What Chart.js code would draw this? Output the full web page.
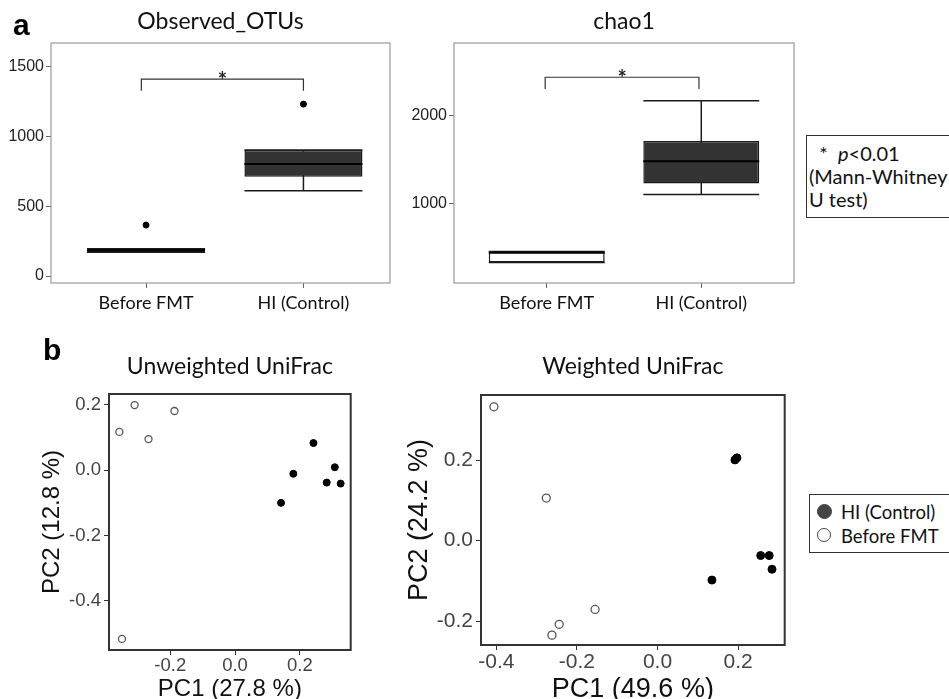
<!DOCTYPE html>
<html>
<head>
<meta charset="utf-8">
<title>Alpha / beta diversity</title>
<script src="https://cdn.jsdelivr.net/npm/chart.js@4.4.1/dist/chart.umd.min.js"></script>
<style>
	html, body { margin: 0; padding: 0; background: #fff; }
	body { position: relative; width: 949px; height: 699px; overflow: hidden; font-family: Lato, "Open Sans", sans-serif; color: #111; }
	canvas { position: absolute; }
	.panelLetter { position: absolute; font: bold 30px/30px "Liberation Sans", Arial, sans-serif; color: #000; }
	.legendBox { position: absolute; box-sizing: border-box; border: 1px solid #333; background: #fff; font-size: 20px; line-height: 23px; white-space: nowrap; }
	.legendRow { position: absolute; left: 31px; height: 24px; line-height: 24px; font-size: 18.5px; }
	.legendDot { position: absolute; left: -24px; top: 4px; width: 15px; height: 15px; border-radius: 50%; box-sizing: border-box; }
</style>
</head>
<body>
<canvas id="chartOtus" width="395" height="320" style="left:0;top:0"></canvas>
<canvas id="chartChao" width="399" height="320" style="left:400px;top:0"></canvas>
<canvas id="chartUnweighted" width="356" height="380" style="left:0;top:330px"></canvas>
<canvas id="chartWeighted" width="390" height="380" style="left:400px;top:330px"></canvas>

<div class="panelLetter" style="left:13px;top:10px">a</div>
<div class="panelLetter" style="left:43px;top:335px">b</div>

<div class="legendBox" id="pValueNote" style="left:806px;top:135px;width:160px;height:83px;padding:6px 0 0 2px">
	<div>&nbsp;&nbsp;*&nbsp;&nbsp;<i>p</i>&lt;0.01</div>
	<div>(Mann-Whitney</div>
	<div>U test)</div>
</div>
<div class="legendBox" id="groupLegend" style="left:809px;top:494px;width:160px;height:59px"></div>

<script>
// ---------------- DATA ----------------
var GROUPS = ['Before FMT', 'HI (Control)'];

// Observed_OTUs
var OTU_TICKS = [0, 500, 1000, 1500];
var OTU_Q1 = [170, 711];
var OTU_MEDIAN = [184, 802];
var OTU_Q3 = [196, 903];
var OTU_LOWER = [170, 611];
var OTU_UPPER = [196, 903];
var OTU_OUTLIERS = [[365], [1232]];
var OTU_BRACKET = [1411, 1327];      // bar level, leg end

// chao1
var CHAO_TICKS = [1000, 2000];
var CHAO_Q1 = [328, 1226];
var CHAO_MEDIAN = [440, 1478];
var CHAO_Q3 = [454, 1707];
var CHAO_LOWER = [328, 1100];
var CHAO_UPPER = [454, 2165];
var CHAO_OUTLIERS = [[], []];
var CHAO_BRACKET = [2432, 2298];

// Unweighted UniFrac PCoA
var UNW_X_TICKS = [-0.2, 0, 0.2];
var UNW_Y_TICKS = [-0.4, -0.2, 0, 0.2];
var UNW_HI_X = [0.242, 0.180, 0.308, 0.283, 0.326, 0.142];
var UNW_HI_Y = [0.083, -0.011, 0.009, -0.038, -0.041, -0.100];
var UNW_BEFORE_X = [-0.357, -0.310, -0.267, -0.187, -0.349];
var UNW_BEFORE_Y = [0.117, 0.199, 0.095, 0.181, -0.516];

// Weighted UniFrac PCoA
var W_X_TICKS = [-0.4, -0.2, 0, 0.2];
var W_Y_TICKS = [-0.2, 0, 0.2];
var W_HI_X = [0.192, 0.197, 0.256, 0.277, 0.284, 0.135];
var W_HI_Y = [0.201, 0.206, -0.037, -0.037, -0.071, -0.098];
var W_BEFORE_X = [-0.406, -0.276, -0.155, -0.244, -0.262];
var W_BEFORE_Y = [0.333, 0.106, -0.171, -0.208, -0.235];

// ---------------- STYLE ----------------
var BOX_WIDTH = 0.75;
var LABEL_FONT = 'Lato';
var AXIS_FONT = '"Liberation Sans", Arial, sans-serif';

// ---------------- PLUGINS ----------------
// Whiskers (behind boxes), medians + significance bracket (on top)
var boxWhiskers = {
	id: 'boxWhiskers',
	beforeDatasetsDraw: function (chart, args, opts) {
		var xs = chart.scales.x, ys = chart.scales.y, ctx = chart.ctx;
		ctx.save();
		ctx.strokeStyle = '#1a1a1a';
		ctx.lineWidth = 1.5;
		opts.lower.forEach(function (lo, i) {
			var cx = xs.getPixelForValue(i + 1);
			var half = xs.getPixelForValue(i + 1 + BOX_WIDTH / 2) - cx;
			var yLo = ys.getPixelForValue(lo), yHi = ys.getPixelForValue(opts.upper[i]);
			ctx.beginPath();
			ctx.moveTo(cx, yLo); ctx.lineTo(cx, yHi);
			ctx.moveTo(cx - half, yLo); ctx.lineTo(cx + half, yLo);
			ctx.moveTo(cx - half, yHi); ctx.lineTo(cx + half, yHi);
			ctx.stroke();
		});
		ctx.restore();
	},
	afterDatasetsDraw: function (chart, args, opts) {
		var xs = chart.scales.x, ys = chart.scales.y, ctx = chart.ctx;
		ctx.save();
		// medians
		ctx.strokeStyle = '#000';
		ctx.lineWidth = 2;
		opts.median.forEach(function (m, i) {
			var cx = xs.getPixelForValue(i + 1);
			var half = xs.getPixelForValue(i + 1 + BOX_WIDTH / 2) - cx;
			var y = ys.getPixelForValue(m);
			ctx.beginPath();
			ctx.moveTo(cx - half, y); ctx.lineTo(cx + half, y);
			ctx.stroke();
		});
		// bracket
		var x1 = xs.getPixelForValue(opts.bracketFrom), x2 = xs.getPixelForValue(opts.bracketTo);
		var yBar = ys.getPixelForValue(opts.bracket[0]), yLeg = ys.getPixelForValue(opts.bracket[1]);
		ctx.strokeStyle = '#333';
		ctx.lineWidth = 1.2;
		ctx.beginPath();
		ctx.moveTo(x1, yLeg); ctx.lineTo(x1, yBar); ctx.lineTo(x2, yBar); ctx.lineTo(x2, yLeg);
		ctx.stroke();
		ctx.fillStyle = '#222';
		ctx.font = 'bold 22px ' + LABEL_FONT;
		ctx.textAlign = 'center';
		ctx.textBaseline = 'alphabetic';
		ctx.fillText('*', (x1 + x2) / 2, yBar + 9);
		ctx.restore();
	}
};

var panelFrame = {
	id: 'panelFrame',
	afterDatasetsDraw: function (chart, args, opts) {
		var a = chart.chartArea, ctx = chart.ctx;
		ctx.save();
		ctx.strokeStyle = opts.color;
		ctx.lineWidth = opts.width;
		ctx.strokeRect(a.left, a.top, a.right - a.left, a.bottom - a.top);
		ctx.restore();
	}
};

// ---------------- BUILDERS ----------------
function fixedTicks(values) {
	return function (scale) {
		scale.ticks = values.map(function (v) { return {value: v}; });
	};
}

function buildBoxChart(canvasId, box) {
	var boxData = [], outlierData = [];
	GROUPS.forEach(function (name, i) {
		boxData.push({x: i + 1, y: [box.q1[i], box.q3[i]]});
		box.outliers[i].forEach(function (v) {
			outlierData.push({x: i + 1, y: v});
		});
	});

	return new Chart(document.getElementById(canvasId), {
		type: 'bar',
		data: {
			datasets: [
				{
					label: 'box',
					data: boxData,
					backgroundColor: ['#ffffff', '#333333'],
					borderColor: '#1a1a1a',
					borderWidth: 1.5,
					borderSkipped: false,
					barPercentage: BOX_WIDTH,
					categoryPercentage: 1,
					order: 2
				},
				{
					type: 'scatter',
					label: 'outliers',
					data: outlierData,
					pointRadius: 3,
					backgroundColor: '#000',
					borderColor: '#000',
					order: 1
				}
			]
		},
		options: {
			responsive: false,
			animation: false,
			events: [],
			layout: {padding: {left: 0, top: 0, bottom: 0, right: 5}},
			scales: {
				x: {
					type: 'linear',
					min: box.xMin,
					max: box.xMax,
					offset: false,
					afterFit: function (s) { s.height = 37; },
					afterBuildTicks: fixedTicks([1, 2]),
					ticks: {
						callback: function (v) { return GROUPS[v - 1]; },
						font: {family: LABEL_FONT, size: 18, lineHeight: 1},
						color: '#111',
						padding: 6,
						maxRotation: 0,
						autoSkip: false
					},
					grid: {drawOnChartArea: false, offset: false, tickLength: 5, color: '#666'},
					border: {display: false}
				},
				y: {
					type: 'linear',
					min: box.yMin,
					max: box.yMax,
					afterFit: function (s) { s.width = box.yWidth; },
					afterBuildTicks: fixedTicks(box.ticks),
					ticks: {
						callback: function (v) { return String(v); },
						font: {family: AXIS_FONT, size: 16, lineHeight: 1},
						color: '#222',
						padding: 2
					},
					grid: {drawOnChartArea: false, tickLength: 5, color: '#666'},
					border: {display: false}
				}
			},
			plugins: {
				legend: {display: false},
				tooltip: {enabled: false},
				title: {
					display: true,
					text: box.title,
					fullSize: false,
					color: '#111',
					font: {family: LABEL_FONT, size: 23, weight: 'normal', lineHeight: 1.2},
					padding: {top: 8, bottom: 7.4}
				},
				boxWhiskers: {
					lower: box.lower,
					upper: box.upper,
					median: box.median,
					bracket: box.bracket,
					bracketFrom: box.bracketFrom,
					bracketTo: box.bracketTo
				},
				panelFrame: {color: '#999', width: 1.2}
			}
		},
		plugins: [boxWhiskers, panelFrame]
	});
}

function toPoints(xs, ys) {
	return xs.map(function (x, i) { return {x: x, y: ys[i]}; });
}

function buildPcoaChart(canvasId, pc) {
	var tickFont = {family: AXIS_FONT, size: pc.tickSize, lineHeight: 1};
	var titleFont = {family: AXIS_FONT, size: pc.titleSize, lineHeight: 1.2};
	return new Chart(document.getElementById(canvasId), {
		type: 'scatter',
		data: {
			datasets: [
				{
					label: 'HI (Control)',
					data: toPoints(pc.hiX, pc.hiY),
					backgroundColor: '#000',
					borderColor: '#000',
					borderWidth: 1,
					pointRadius: pc.radius
				},
				{
					label: 'Before FMT',
					data: toPoints(pc.beforeX, pc.beforeY),
					backgroundColor: '#fff',
					borderColor: '#555',
					borderWidth: 1.3,
					pointRadius: pc.radius
				}
			]
		},
		options: {
			responsive: false,
			animation: false,
			events: [],
			layout: {padding: {left: 0, top: 0, bottom: 0, right: 5}},
			scales: {
				x: {
					min: pc.xMin,
					max: pc.xMax,
					afterFit: function (s) { s.height = pc.xHeight; },
					afterBuildTicks: fixedTicks(pc.xTicks),
					ticks: {font: tickFont, color: '#444', padding: 2, maxRotation: 0, autoSkip: false,
						callback: function (v) { return v.toFixed(1); }},
					grid: {drawOnChartArea: false, tickLength: 5, color: '#333'},
					border: {display: false},
					title: {display: true, text: pc.xTitle, color: '#111', font: titleFont, padding: {top: 0, bottom: pc.xTitlePad}}
				},
				y: {
					min: pc.yMin,
					max: pc.yMax,
					afterFit: function (s) { s.width = pc.yWidth; },
					afterBuildTicks: fixedTicks(pc.yTicks),
					ticks: {font: tickFont, color: '#444', padding: 3,
						callback: function (v) { return v.toFixed(1); }},
					grid: {drawOnChartArea: false, tickLength: 5, color: '#333'},
					border: {display: false},
					title: {display: true, text: pc.yTitle, color: '#111', font: titleFont, padding: {top: pc.yTitlePad, bottom: 0}}
				}
			},
			plugins: {
				legend: {display: false},
				tooltip: {enabled: false},
				title: {
					display: true,
					text: pc.title,
					fullSize: false,
					color: '#111',
					font: {family: LABEL_FONT, size: 23, weight: 'normal', lineHeight: 1.2},
					padding: {top: 23, bottom: pc.titlePadBottom}
				},
				panelFrame: {color: '#333', width: 2}
			}
		},
		plugins: [panelFrame]
	});
}

// ---------------- CHARTS ----------------
buildBoxChart('chartOtus', {
	title: 'Observed_OTUs',
	q1: OTU_Q1, q3: OTU_Q3, median: OTU_MEDIAN, lower: OTU_LOWER, upper: OTU_UPPER,
	outliers: OTU_OUTLIERS, ticks: OTU_TICKS, bracket: OTU_BRACKET,
	bracketFrom: 0.97, bracketTo: 2.0,
	xMin: 0.396, xMax: 2.55, yMin: -50, yMax: 1670, yWidth: 51
});

buildBoxChart('chartChao', {
	title: 'chao1',
	q1: CHAO_Q1, q3: CHAO_Q3, median: CHAO_MEDIAN, lower: CHAO_LOWER, upper: CHAO_UPPER,
	outliers: CHAO_OUTLIERS, ticks: CHAO_TICKS, bracket: CHAO_BRACKET,
	bracketFrom: 0.99, bracketTo: 1.985,
	xMin: 0.4, xMax: 2.6, yMin: 95, yMax: 2821, yWidth: 54
});

buildPcoaChart('chartUnweighted', {
	title: 'Unweighted UniFrac',
	xTitle: 'PC1 (27.8 %)', yTitle: 'PC2 (12.8 %)',
	hiX: UNW_HI_X, hiY: UNW_HI_Y, beforeX: UNW_BEFORE_X, beforeY: UNW_BEFORE_Y,
	xTicks: UNW_X_TICKS, yTicks: UNW_Y_TICKS,
	xMin: -0.389, xMax: 0.357, yMin: -0.550, yMax: 0.233,
	yWidth: 109, xHeight: 60, yTitlePad: 38, xTitlePad: 6,
	tickSize: 18.5, titleSize: 24, radius: 3.5, titlePadBottom: 13.4
});

var weightedChart = buildPcoaChart('chartWeighted', {
	title: 'Weighted UniFrac',
	xTitle: 'PC1 (49.6 %)', yTitle: 'PC2 (24.2 %)',
	hiX: W_HI_X, hiY: W_HI_Y, beforeX: W_BEFORE_X, beforeY: W_BEFORE_Y,
	xTicks: W_X_TICKS, yTicks: W_Y_TICKS,
	xMin: -0.438, xMax: 0.3155, yMin: -0.2595, yMax: 0.3624,
	yWidth: 81, xHeight: 65, yTitlePad: 3.5, xTitlePad: 4.5,
	tickSize: 21, titleSize: 27, radius: 4, titlePadBottom: 14.4
});

// Group legend built from the scatter datasets
(function () {
	var html = '';
	weightedChart.data.datasets.forEach(function (ds, i) {
		var dot = i === 0
			? 'background:#444;border:1px solid #444'
			: 'background:#fff;border:1.3px solid #444;width:14px;height:14px';
		html += '<div class="legendRow" style="top:' + (5 + i * 24) + 'px">' +
			'<span class="legendDot" style="' + dot + '"></span>' + ds.label + '</div>';
	});
	document.getElementById('groupLegend').innerHTML = html;
})();
</script>
</body>
</html>
